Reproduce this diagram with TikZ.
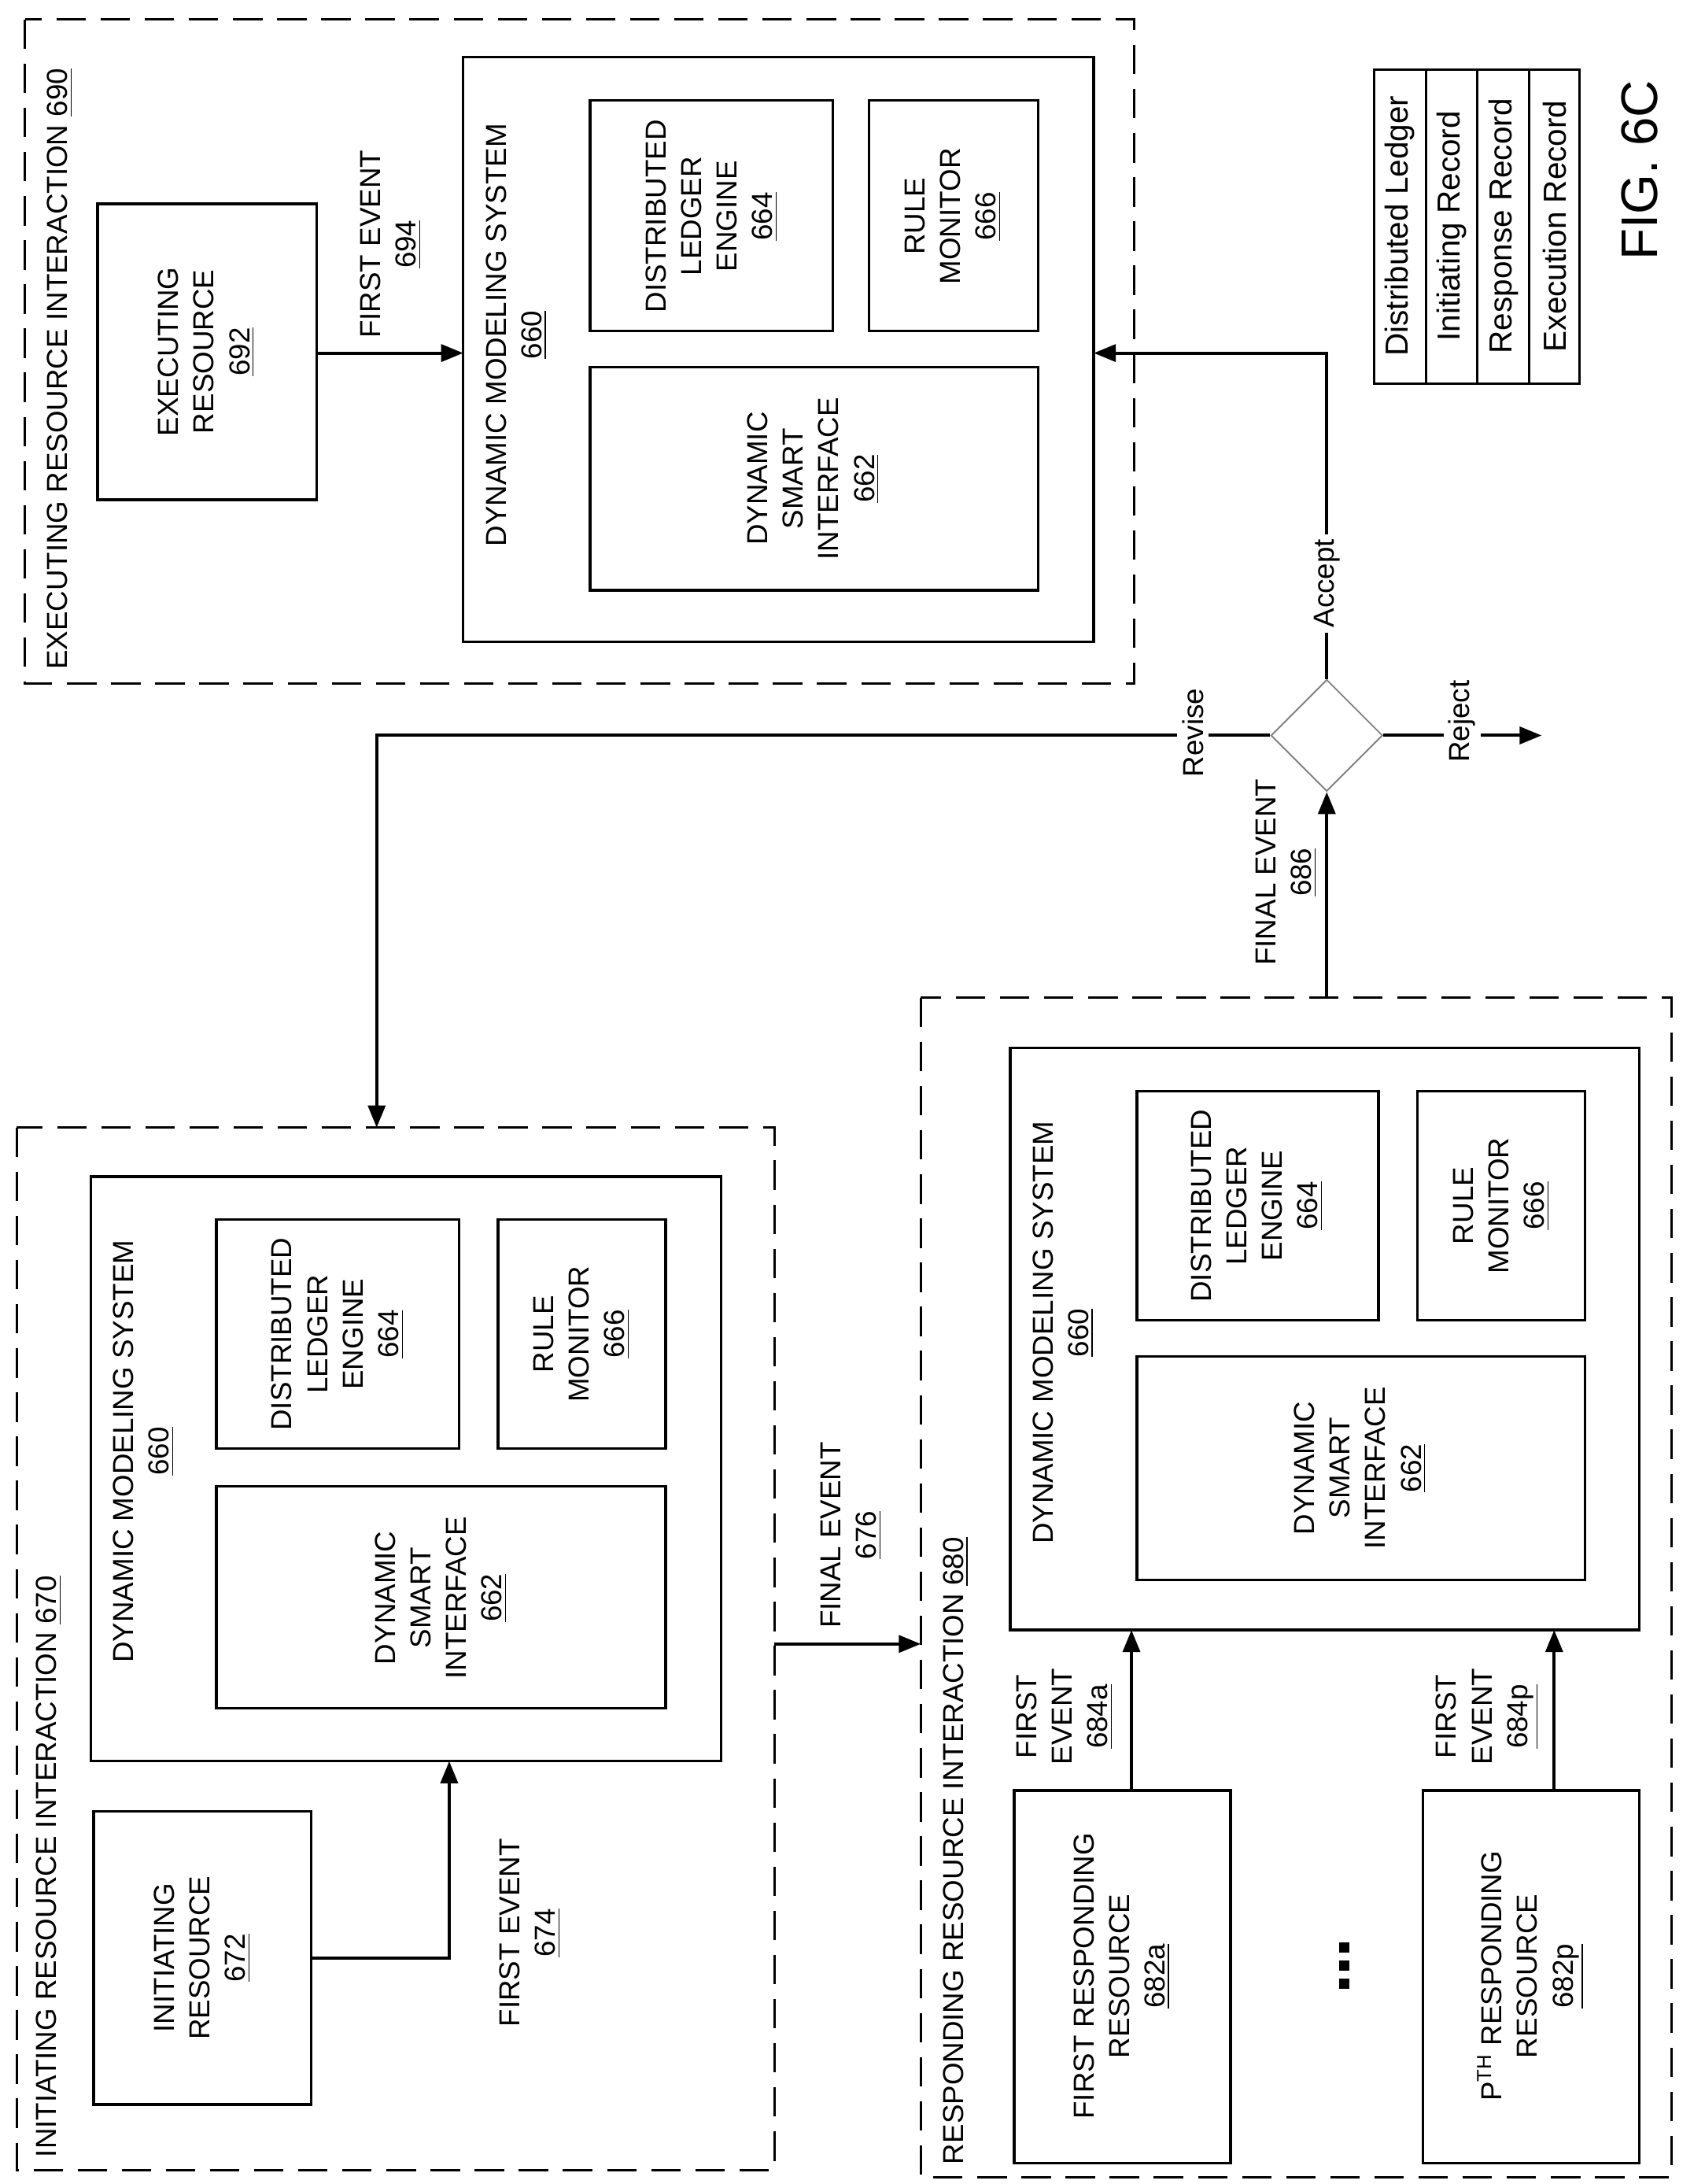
\documentclass[tikz,border=0pt]{standalone}
\usepackage{fontspec}
\setmainfont{Liberation Sans}
\usetikzlibrary{arrows.meta,shapes.geometric}
\begin{document}
\begin{tikzpicture}[x=0.02cm,y=-0.02cm,
  every node/.style={font=\fontsize{11.8}{14.5}\selectfont},
  dbox/.style={draw,dashed,dash pattern=on 12pt off 6pt,line width=1pt},
  sbox/.style={draw,line width=1.1pt},
  rt/.style={rotate=90,align=center,inner sep=1pt},
  wl/.style={rotate=90,fill=white,inner sep=2pt},
  arr/.style={line width=1.3pt,-{Triangle[length=9pt,width=7pt]}}]
\useasboundingbox (0,0) rectangle (1222,1565);
% ---------- 690 ----------
\draw[dbox] (18,14) rectangle (813,490);
\node[rt,anchor=west] (l690) at (43,482) {EXECUTING RESOURCE INTERACTION \underline{690}};
\draw[sbox] (70,146) rectangle (227,358);
\node[rt] (r692) at (148,252) {EXECUTING\\RESOURCE\\\underline{692}};
\draw[sbox] (332,41) rectangle (784,460);
\coordinate (d1l) at (332,253); \coordinate (d1r) at (784,253);
\node[rt] (m1) at (370,240) {DYNAMIC MODELING SYSTEM\\\underline{660}};
\draw[sbox] (423,72) rectangle (597,237);
\node[rt] (dl1) at (510,155) {DISTRIBUTED\\LEDGER\\ENGINE\\\underline{664}};
\draw[sbox] (623,72) rectangle (744,237);
\node[rt] (rm1) at (683,155) {RULE\\MONITOR\\\underline{666}};
\draw[sbox] (423,263) rectangle (744,423);
\node[rt] (si1) at (583,343) {DYNAMIC\\SMART\\INTERFACE\\\underline{662}};
\coordinate (e692) at (227,253);
\draw[arr] (e692) -- (d1l);
\node[rt] (fe694) at (280,175) {FIRST EVENT\\\underline{694}};
% ---------- legend ----------
\draw[line width=1pt] (985,50) rectangle (1132,275);
\foreach \x in {1022,1059,1096} \draw[line width=1pt] (\x,50) -- (\x,275);
\node[rt,font=\fontsize{13}{15}\selectfont] (lg1) at (1003.5,162) {Distributed Ledger};
\node[rt,font=\fontsize{13}{15}\selectfont] (lg2) at (1040.5,162) {Initiating Record};
\node[rt,font=\fontsize{13}{15}\selectfont] (lg3) at (1077.5,162) {Response Record};
\node[rt,font=\fontsize{13}{15}\selectfont] (lg4) at (1114.5,162) {Execution Record};
\node[rt,font=\fontsize{21}{24}\selectfont] (fig) at (1175,122) {FIG. 6C};
% ---------- diamond ----------
\node[diamond,draw=gray,line width=0.6pt,minimum size=1.6cm,inner sep=0pt] (dia) at (951,527) {};
\coordinate (acc) at (951,253);
\coordinate (rev) at (270,527);
\coordinate (rej) at (1105,527);
\draw[arr] (dia.north) -- (acc) -- (d1r);
\node[wl] (lacc) at (951,418) {Accept};
\draw[arr] (dia.west) -- (rev) -- (270,808);
\node[wl] (lrev) at (855,525) {Revise};
\draw[arr] (dia.east) -- (rej);
\node[wl] (lrej) at (1048,517) {Reject};
% ---------- 670 ----------
\draw[dbox] (12,808) rectangle (555,1555);
\node[rt,anchor=west] (l670) at (35,1548) {INITIATING RESOURCE INTERACTION \underline{670}};
\draw[sbox] (65,843) rectangle (517,1262);
\node[rt] (m2) at (103,1040) {DYNAMIC MODELING SYSTEM\\\underline{660}};
\draw[sbox] (155,874) rectangle (329,1038);
\node[rt] (dl2) at (242,956) {DISTRIBUTED\\LEDGER\\ENGINE\\\underline{664}};
\draw[sbox] (357,874) rectangle (477,1038);
\node[rt] (rm2) at (417,956) {RULE\\MONITOR\\\underline{666}};
\draw[sbox] (155,1065) rectangle (477,1224);
\node[rt] (si2) at (316,1145) {DYNAMIC\\SMART\\INTERFACE\\\underline{662}};
\draw[sbox] (67,1298) rectangle (223,1508);
\node[rt] (r672) at (145,1403) {INITIATING\\RESOURCE\\\underline{672}};
\draw[arr] (223,1403) -- (322,1403) -- (322,1262);
\node[rt] (fe674) at (380,1385) {FIRST EVENT\\\underline{674}};
\draw[arr] (555,1178) -- (660,1178);
\node[rt] (fe676) at (610,1100) {FINAL EVENT\\\underline{676}};
% ---------- 680 ----------
\draw[dbox] (660,715) rectangle (1198,1560);
\node[rt,anchor=west] (l680) at (685,1553) {RESPONDING RESOURCE INTERACTION \underline{680}};
\draw[arr] (951,715) -- (dia.south);
\node[rt] (fe686) at (922,625) {FINAL EVENT\\\underline{686}};
\draw[sbox] (724,751) rectangle (1175,1168);
\node[rt] (m3) at (762,955) {DYNAMIC MODELING SYSTEM\\\underline{660}};
\draw[sbox] (815,782) rectangle (988,946);
\node[rt] (dl3) at (901,864) {DISTRIBUTED\\LEDGER\\ENGINE\\\underline{664}};
\draw[sbox] (1016,782) rectangle (1136,946);
\node[rt] (rm3) at (1076,864) {RULE\\MONITOR\\\underline{666}};
\draw[sbox] (815,972) rectangle (1136,1132);
\node[rt] (si3) at (975,1052) {DYNAMIC\\SMART\\INTERFACE\\\underline{662}};
\draw[sbox] (727,1283) rectangle (882,1550);
\node[rt] (r682a) at (804,1416) {FIRST RESPONDING\\RESOURCE\\\underline{682a}};
\draw[sbox] (1020,1283) rectangle (1175,1550);
\node[rt] (r682p) at (1097,1416) {P\textsuperscript{TH} RESPONDING\\RESOURCE\\\underline{682p}};
\draw[arr] (811,1283) -- (811,1168);
\draw[arr] (1114,1283) -- (1114,1168);
\node[rt] (fe684a) at (763,1230) {FIRST\\EVENT\\\underline{684a}};
\node[rt] (fe684p) at (1066,1230) {FIRST\\EVENT\\\underline{684p}};
\foreach \y in {1392,1405,1418} \fill (960,\y) rectangle +(7,7);
\end{tikzpicture}
\end{document}
